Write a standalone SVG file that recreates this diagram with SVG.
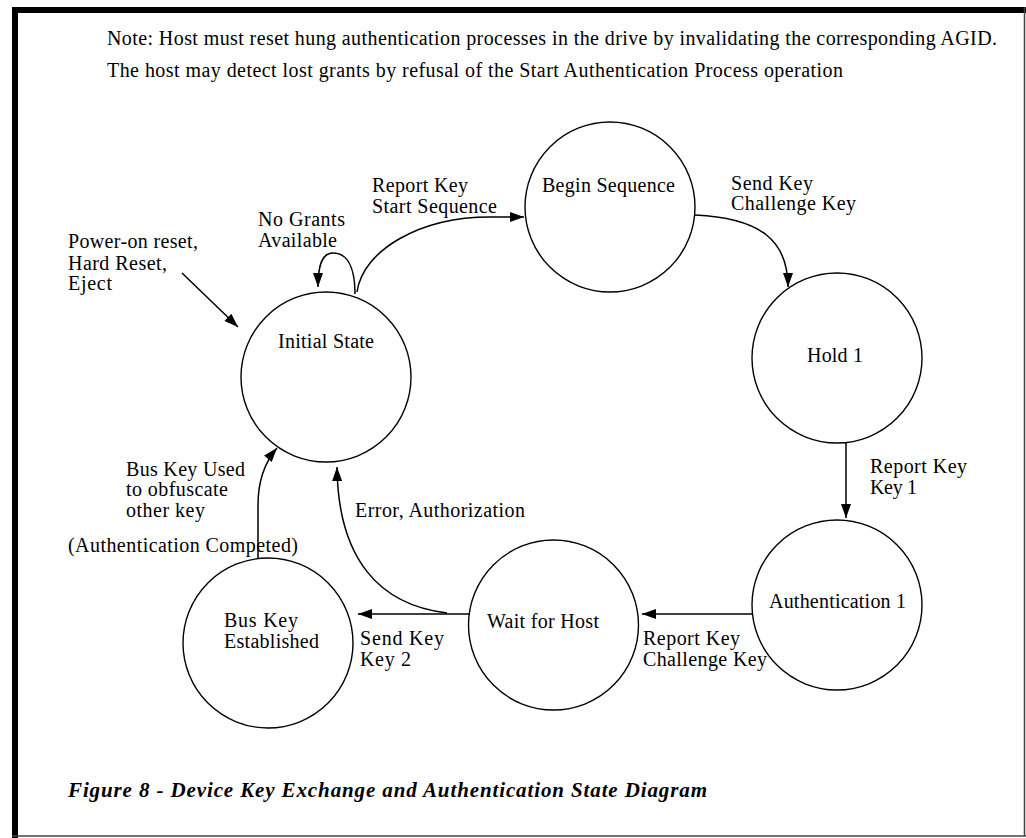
<svg xmlns="http://www.w3.org/2000/svg" width="1026" height="838" viewBox="0 0 1026 838">
<style>
  text { font-family: "Liberation Serif", "Times New Roman", serif; font-size: 20px; fill: #000; }
  .state { fill: #fff; stroke: #000; stroke-width: 1.4; }
  .conn { fill: none; stroke: #000; stroke-width: 1.5; marker-end: url(#arr); }
  .caption { font-weight: bold; font-style: italic; font-size: 21px; }
</style>
<defs>
  <marker id="arr" viewBox="-15 -6 16 12" refX="0" refY="0" markerWidth="16" markerHeight="12" markerUnits="userSpaceOnUse" orient="auto">
    <path d="M0,0 L-14,-5 L-14,5 Z" fill="#000"/>
  </marker>
</defs>
<rect x="0" y="0" width="1026" height="838" fill="#fff"/>
<g id="frame">
  <rect x="12" y="7" width="1014" height="6" fill="#000"/>
  <rect x="12" y="7" width="6" height="831" fill="#000"/>
  <line x1="12" y1="836" x2="1026" y2="836" stroke="#444" stroke-width="1.5"/>
  <line x1="1024.5" y1="7" x2="1024.5" y2="836" stroke="#444" stroke-width="1.5"/>
</g>
<g id="note">
  <text x="107" y="45" textLength="890">Note: Host must reset hung authentication processes in the drive by invalidating the corresponding AGID.</text>
  <text x="107" y="77" textLength="736">The host may detect lost grants by refusal of the Start Authentication Process operation</text>
</g>
<g id="connectors">
  <path class="conn" d="M182,273 L238,327"/>
  <path class="conn" d="M355,294 C355,265 346,253 333,253 C322,253 318,265 318,287"/>
  <path class="conn" d="M357,292 C363,250 420,217 490,217 L524,217"/>
  <path class="conn" d="M695,215 C760,218 788,240 788,287"/>
  <path class="conn" d="M846,443 L846,518"/>
  <path class="conn" d="M753,614 L642,614"/>
  <path class="conn" d="M469,614 L358,614"/>
  <path class="conn" d="M447,613 C380,605 338,560 337,467"/>
  <path class="conn" d="M258,558 L258,505 C258,480 265,462 277,448"/>
</g>
<g id="edge-labels">
  <text x="68" y="248" textLength="130">Power-on reset,</text>
  <text x="68" y="270" textLength="99">Hard Reset,</text>
  <text x="68" y="290" textLength="44">Eject</text>
  <text x="258" y="226" textLength="87">No Grants</text>
  <text x="258" y="247" textLength="79">Available</text>
  <text x="372" y="192" textLength="96">Report Key</text>
  <text x="372" y="213" textLength="125">Start Sequence</text>
  <text x="731" y="190" textLength="82">Send Key</text>
  <text x="731" y="210" textLength="125">Challenge Key</text>
  <text x="870" y="473" textLength="97">Report Key</text>
  <text x="870" y="494" textLength="47">Key 1</text>
  <text x="643" y="645" textLength="97">Report Key</text>
  <text x="643" y="666" textLength="124">Challenge Key</text>
  <text x="360" y="645" textLength="84">Send Key</text>
  <text x="360" y="666" textLength="51">Key 2</text>
  <text x="355" y="517" textLength="170">Error, Authorization</text>
  <text x="126" y="476" textLength="119">Bus Key Used</text>
  <text x="126" y="496" textLength="102">to obfuscate</text>
  <text x="126" y="517" textLength="79">other key</text>
  <text x="68" y="552" textLength="230">(Authentication Competed)</text>
</g>
<g id="initial-state">
  <circle class="state" cx="326" cy="377" r="85"/>
  <text x="278" y="348" textLength="96">Initial State</text>
</g>
<g id="begin-sequence">
  <circle class="state" cx="610" cy="207" r="85"/>
  <text x="542" y="192" textLength="133">Begin Sequence</text>
</g>
<g id="hold-1">
  <circle class="state" cx="837" cy="358" r="85"/>
  <text x="807" y="362" textLength="56">Hold 1</text>
</g>
<g id="authentication-1">
  <circle class="state" cx="837" cy="605" r="85"/>
  <text x="769" y="608" textLength="137">Authentication 1</text>
</g>
<g id="wait-for-host">
  <circle class="state" cx="553.5" cy="625" r="85"/>
  <text x="487" y="628" textLength="112">Wait for Host</text>
</g>
<g id="bus-key-established">
  <circle class="state" cx="268" cy="643" r="85"/>
  <text x="224" y="627" textLength="74">Bus Key</text>
  <text x="224" y="648" textLength="95">Established</text>
</g>
<g id="caption">
  <text class="caption" x="68" y="797" textLength="639">Figure 8 - Device Key Exchange and Authentication State Diagram</text>
</g>
</svg>
